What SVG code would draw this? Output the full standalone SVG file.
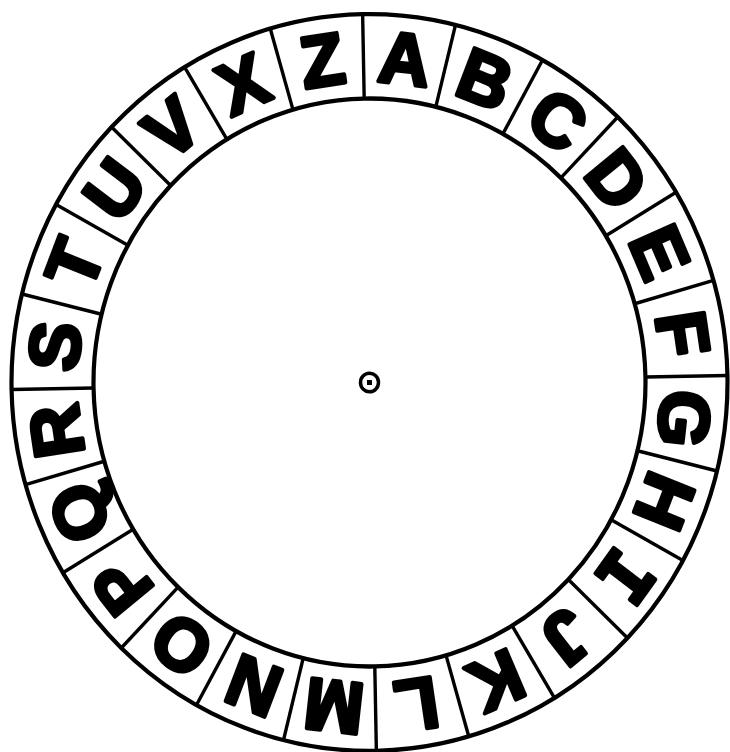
<svg xmlns="http://www.w3.org/2000/svg" width="730" height="752" viewBox="0 0 730 752">
<style>
.ring{fill:none;stroke:#000;stroke-width:4.2}
.dv line{stroke:#000;stroke-width:3.4}
.l{font-family:"Liberation Sans",Arial,sans-serif;font-weight:bold;font-size:71px;text-anchor:middle;fill:#000;stroke:#000;stroke-width:4;stroke-linejoin:round}
.m{font-family:"DejaVu Sans Mono","Liberation Mono",monospace}
</style>
<rect width="730" height="752" fill="#fff"/>
<g transform="translate(369.5,382.5) scale(1,1.029) rotate(-1.1)">
<g id="rings">
<circle class="ring" r="358"/>
<circle class="ring" r="276"/>
</g>
<g id="dividers" class="dv">
<line x1="0" y1="-276" x2="0" y2="-358" transform="rotate(0)"/>
<line x1="0" y1="-276" x2="0" y2="-358" transform="rotate(15)"/>
<line x1="0" y1="-276" x2="0" y2="-358" transform="rotate(30)"/>
<line x1="0" y1="-276" x2="0" y2="-358" transform="rotate(45)"/>
<line x1="0" y1="-276" x2="0" y2="-358" transform="rotate(60)"/>
<line x1="0" y1="-276" x2="0" y2="-358" transform="rotate(75)"/>
<line x1="0" y1="-276" x2="0" y2="-358" transform="rotate(90)"/>
<line x1="0" y1="-276" x2="0" y2="-358" transform="rotate(105)"/>
<line x1="0" y1="-276" x2="0" y2="-358" transform="rotate(120)"/>
<line x1="0" y1="-276" x2="0" y2="-358" transform="rotate(135)"/>
<line x1="0" y1="-276" x2="0" y2="-358" transform="rotate(150)"/>
<line x1="0" y1="-276" x2="0" y2="-358" transform="rotate(165)"/>
<line x1="0" y1="-276" x2="0" y2="-358" transform="rotate(180)"/>
<line x1="0" y1="-276" x2="0" y2="-358" transform="rotate(195)"/>
<line x1="0" y1="-276" x2="0" y2="-358" transform="rotate(210)"/>
<line x1="0" y1="-276" x2="0" y2="-358" transform="rotate(225)"/>
<line x1="0" y1="-276" x2="0" y2="-358" transform="rotate(240)"/>
<line x1="0" y1="-276" x2="0" y2="-358" transform="rotate(255)"/>
<line x1="0" y1="-276" x2="0" y2="-358" transform="rotate(270)"/>
<line x1="0" y1="-276" x2="0" y2="-358" transform="rotate(285)"/>
<line x1="0" y1="-276" x2="0" y2="-358" transform="rotate(300)"/>
<line x1="0" y1="-276" x2="0" y2="-358" transform="rotate(315)"/>
<line x1="0" y1="-276" x2="0" y2="-358" transform="rotate(330)"/>
<line x1="0" y1="-276" x2="0" y2="-358" transform="rotate(345)"/>
</g>
<g id="letter-A"><text class="l" y="-292" transform="rotate(7.5)">A</text></g>
<g id="letter-B"><text class="l" y="-292" transform="rotate(22.5)">B</text></g>
<g id="letter-C"><text class="l" y="-292" transform="rotate(37.5)">C</text></g>
<g id="letter-D"><text class="l" y="-292" transform="rotate(52.5)">D</text></g>
<g id="letter-E"><text class="l" y="-292" transform="rotate(67.5)">E</text></g>
<g id="letter-F"><text class="l" y="-292" transform="rotate(82.5)">F</text></g>
<g id="letter-G"><text class="l" y="-292" transform="rotate(97.5)">G</text></g>
<g id="letter-H"><text class="l" y="-292" transform="rotate(112.5)">H</text></g>
<g id="letter-I"><text class="l m" y="-292" transform="rotate(127.5)">I</text></g>
<g id="letter-J"><text class="l" y="-292" transform="rotate(142.5)">J</text></g>
<g id="letter-K"><text class="l" y="-292" transform="rotate(157.5)">K</text></g>
<g id="letter-L"><text class="l" y="-292" transform="rotate(172.5)">L</text></g>
<g id="letter-M"><text class="l" y="-292" transform="rotate(187.5)">M</text></g>
<g id="letter-N"><text class="l" y="-292" transform="rotate(202.5)">N</text></g>
<g id="letter-O"><text class="l" y="-292" transform="rotate(217.5)">O</text></g>
<g id="letter-P"><text class="l" y="-292" transform="rotate(232.5)">P</text></g>
<g id="letter-Q"><text class="l" y="-292" transform="rotate(247.5)">Q</text></g>
<g id="letter-R"><text class="l" y="-292" transform="rotate(262.5)">R</text></g>
<g id="letter-S"><text class="l" y="-292" transform="rotate(277.5)">S</text></g>
<g id="letter-T"><text class="l" y="-292" transform="rotate(292.5)">T</text></g>
<g id="letter-U"><text class="l" y="-292" transform="rotate(307.5)">U</text></g>
<g id="letter-V"><text class="l" y="-292" transform="rotate(322.5)">V</text></g>
<g id="letter-X"><text class="l" y="-292" transform="rotate(337.5)">X</text></g>
<g id="letter-Z"><text class="l" y="-292" transform="rotate(352.5)">Z</text></g>
<g id="center-pin">
<circle r="9" fill="none" stroke="#000" stroke-width="3.5"/>
<rect x="-2.5" y="-2.5" width="5" height="5" fill="#000"/>
</g>
</g>
</svg>
